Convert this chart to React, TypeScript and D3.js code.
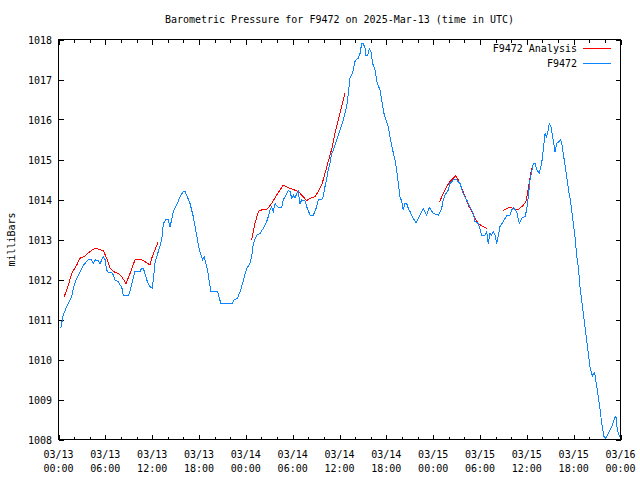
import React from "react";
import * as d3 from "d3";

const WIDTH = 640;
const HEIGHT = 480;
const TITLE = "Barometric Pressure for F9472 on 2025-Mar-13 (time in UTC)";
const Y_LABEL = "milliBars";
const START = "2025-03-13T00:00:00Z";
const END = "2025-03-16T00:00:00Z";
const yTicks = [1008, 1009, 1010, 1011, 1012, 1013, 1014, 1015, 1016, 1017, 1018];
const xTickDates = ["03/13", "03/13", "03/13", "03/13", "03/14", "03/14", "03/14", "03/14", "03/15", "03/15", "03/15", "03/15", "03/16"];
const xTickTimes = ["00:00", "06:00", "12:00", "18:00", "00:00", "06:00", "12:00", "18:00", "00:00", "06:00", "12:00", "18:00", "00:00"];

// Observed series (hours since 03/13 00:00 UTC, mbar)
const obsHours = [
  0.28, 0.61, 1.05, 1.69, 1.9, 2.33, 2.54, 2.97, 3.18, 3.82, 4.25, 4.46, 4.68, 5.1, 5.32, 5.74, 5.96, 6.17, 6.38, 6.82,
  7.02, 7.24, 7.66, 7.88, 8.1, 8.3, 8.94, 9.16, 9.58, 9.8, 10.44, 10.66, 10.86, 11.08, 11.3, 11.72, 12.02, 12.14, 12.36, 12.58,
  12.79, 13.22, 13.43, 13.77, 14.07, 14.28, 14.5, 14.71, 15.14, 15.57, 15.99, 16.21, 16.42, 16.85, 17.27, 17.7, 18.04, 18.45, 18.66, 19.09,
  19.52, 20.37, 20.8, 22.29, 22.5, 22.93, 23.35, 24.11, 24.53, 24.75, 24.96, 25.39, 25.81, 26.24, 26.67, 26.88, 27.1, 27.31, 27.52, 27.74,
  28.16, 28.59, 28.8, 29.24, 29.44, 29.66, 29.88, 30.08, 30.3, 30.52, 30.72, 30.94, 31.16, 31.58, 31.8, 32.22, 32.65, 33.08, 33.28, 33.72,
  33.92, 34.14, 34.36, 34.56, 34.78, 35.0, 35.21, 35.64, 36.06, 36.49, 36.92, 37.13, 37.34, 37.56, 37.77, 37.98, 38.2, 38.41, 38.63, 38.84,
  39.05, 39.27, 39.39, 39.61, 39.82, 40.03, 40.25, 40.55, 40.84, 41.19, 41.41, 41.7, 41.96, 42.25, 42.47, 42.76, 43.11, 43.33, 43.53, 43.75,
  43.97, 44.17, 44.39, 44.61, 44.81, 45.03, 45.45, 45.8, 46.31, 46.74, 47.17, 47.5, 48.02, 48.66, 49.09, 49.3, 49.51, 49.94, 50.16, 50.58,
  51.01, 51.44, 51.86, 52.29, 52.72, 53.14, 53.36, 53.78, 54.22, 54.64, 54.86, 55.06, 55.28, 55.5, 55.7, 55.92, 56.14, 56.56, 56.98, 57.42,
  57.84, 58.06, 58.27, 58.7, 59.03, 59.34, 59.76, 59.98, 60.19, 60.4, 60.62, 60.83, 61.05, 61.26, 61.6, 61.9, 62.11, 62.33, 62.54, 62.75,
  62.88, 63.1, 63.31, 63.61, 63.82, 64.16, 64.34, 64.47, 64.67, 64.89, 65.11, 65.31, 65.53, 65.75, 65.95, 66.17, 66.39, 66.59, 66.81, 67.03,
  67.23, 67.45, 67.67, 67.87, 68.09, 68.31, 68.44, 68.51, 68.69, 68.86, 69.15, 69.37, 69.59, 69.88, 70.14, 70.44, 70.87, 71.29, 71.42, 71.59,
  71.81, 71.93,
];
const obsValues = [
  1010.78, 1011.11, 1011.32, 1011.57, 1011.78, 1012.03, 1012.11, 1012.28, 1012.36, 1012.49, 1012.49, 1012.4, 1012.49, 1012.47, 1012.4, 1012.57, 1012.5, 1012.24, 1012.18, 1012.18,
  1012.11, 1011.99, 1011.95, 1011.86, 1011.82, 1011.59, 1011.59, 1011.7, 1012.03, 1012.2, 1012.2, 1012.28, 1012.28, 1012.15, 1011.99, 1011.82, 1011.78, 1011.99, 1012.4, 1012.57,
  1012.7, 1012.99, 1013.4, 1013.5, 1013.49, 1013.32, 1013.49, 1013.7, 1013.86, 1014.07, 1014.2, 1014.2, 1014.11, 1013.9, 1013.57, 1013.1, 1012.75, 1012.49, 1012.57, 1012.24,
  1011.7, 1011.7, 1011.4, 1011.4, 1011.49, 1011.53, 1011.74, 1012.28, 1012.4, 1012.57, 1012.9, 1013.11, 1013.15, 1013.28, 1013.45, 1013.57, 1013.74, 1013.82, 1013.7, 1013.9,
  1013.8, 1013.8, 1013.99, 1014.15, 1014.22, 1014.2, 1014.03, 1014.11, 1014.03, 1014.15, 1014.2, 1013.9, 1013.99, 1013.97, 1013.82, 1013.61, 1013.61, 1013.82, 1013.99, 1014.0,
  1014.07, 1014.32, 1014.53, 1014.74, 1014.9, 1015.15, 1015.24, 1015.49, 1015.74, 1015.99, 1016.32, 1016.65, 1017.03, 1017.11, 1017.24, 1017.45, 1017.5, 1017.53, 1017.65, 1017.9,
  1017.9, 1017.78, 1017.61, 1017.61, 1017.78, 1017.7, 1017.4, 1017.24, 1016.9, 1016.74, 1016.49, 1016.15, 1015.99, 1015.82, 1015.57, 1015.28, 1014.99, 1014.74, 1014.4, 1014.07,
  1013.95, 1013.74, 1013.9, 1013.9, 1013.78, 1013.7, 1013.53, 1013.42, 1013.61, 1013.78, 1013.61, 1013.8, 1013.65, 1013.61, 1013.78, 1013.99, 1014.11, 1014.24, 1014.4, 1014.49,
  1014.49, 1014.4, 1014.15, 1013.99, 1013.82, 1013.65, 1013.45, 1013.4, 1013.11, 1013.11, 1013.2, 1012.9, 1013.15, 1013.11, 1013.2, 1013.11, 1012.9, 1013.32, 1013.45, 1013.59,
  1013.61, 1013.74, 1013.8, 1013.7, 1013.4, 1013.53, 1013.57, 1013.74, 1014.07, 1014.49, 1014.7, 1014.9, 1014.9, 1014.74, 1014.66, 1014.9, 1015.24, 1015.65, 1015.57, 1015.74,
  1015.9, 1015.82, 1015.57, 1015.2, 1015.4, 1015.45, 1015.5, 1015.4, 1015.15, 1014.86, 1014.57, 1014.28, 1014.03, 1013.74, 1013.4, 1013.07, 1012.6, 1012.32, 1011.82, 1011.49,
  1011.15, 1010.82, 1010.49, 1010.15, 1009.82, 1009.65, 1009.57, 1009.65, 1009.67, 1009.45, 1009.07, 1008.78, 1008.4, 1008.07, 1008.03, 1008.15, 1008.32, 1008.55, 1008.57, 1008.24,
  1008.11, 1008.07,
];

// Analysis series, four separate runs
const anaHours1 = [0.7, 1.26, 1.69, 2.33, 2.75, 3.39, 4.04, 4.68, 5.32, 5.74, 6.17, 6.6, 7.02, 7.66, 8.1, 8.65, 9.16, 9.8, 10.66, 11.3, 11.72, 11.94, 12.36, 12.79];
const anaValues1 = [1011.55, 1011.86, 1012.15, 1012.36, 1012.53, 1012.59, 1012.7, 1012.78, 1012.75, 1012.72, 1012.53, 1012.28, 1012.2, 1012.15, 1012.07, 1011.9, 1012.15, 1012.49, 1012.49, 1012.42, 1012.36, 1012.53, 1012.74, 1012.95];
const anaHours2 = [24.75, 25.17, 25.6, 26.03, 26.67, 27.31, 27.95, 28.8, 29.66, 30.72, 31.36, 31.8, 32.22, 32.86, 33.28, 33.72, 34.14, 34.56, 35.0, 35.42, 35.85, 36.28, 36.7];
const anaValues2 = [1012.99, 1013.4, 1013.7, 1013.74, 1013.75, 1013.9, 1014.11, 1014.36, 1014.28, 1014.2, 1014.07, 1013.97, 1014.03, 1014.07, 1014.2, 1014.36, 1014.65, 1014.95, 1015.26, 1015.65, 1015.99, 1016.32, 1016.65];
const anaHours3 = [48.78, 49.3, 49.73, 50.16, 50.58, 50.89, 51.22, 51.65, 52.08, 52.5, 52.94, 53.36, 53.78, 54.22, 54.86];
const anaValues3 = [1013.93, 1014.15, 1014.32, 1014.45, 1014.53, 1014.59, 1014.49, 1014.28, 1014.09, 1013.86, 1013.7, 1013.53, 1013.4, 1013.34, 1013.28];
const anaHours4 = [56.91, 57.42, 57.93, 58.48, 58.78, 59.12, 59.55, 59.89, 60.06, 60.23, 60.49, 60.7];
const anaValues4 = [1013.71, 1013.78, 1013.8, 1013.75, 1013.74, 1013.78, 1013.86, 1013.95, 1014.11, 1014.32, 1014.65, 1014.82];

const SERIES_NAMES = ["F9472 Analysis", "F9472"];
const RED = "#ff0000";
const BLUE = "#0a84ff";
const FONT = "'DejaVu Sans Mono', 'Liberation Mono', monospace";

type Pt = { t: Date; v: number };
const t0 = new Date(START).getTime();
const toPts = (hours: number[], vals: number[]): Pt[] =>
  hours.map((h, i) => ({ t: new Date(t0 + h * 3600 * 1000), v: vals[i] }));

export default function App() {
  const margin = { left: 58.5, right: 620.5, top: 39.5, bottom: 439.5 };
  const x = d3.scaleUtc().domain([new Date(START), new Date(END)]).range([margin.left, margin.right]);
  const y = d3.scaleLinear().domain([1008, 1018]).range([margin.bottom, margin.top]);
  const line = d3
    .line<Pt>()
    .x((d) => x(d.t))
    .y((d) => y(d.v));

  const obs = toPts(obsHours, obsValues);
  const ana = [
    toPts(anaHours1, anaValues1),
    toPts(anaHours2, anaValues2),
    toPts(anaHours3, anaValues3),
    toPts(anaHours4, anaValues4),
  ];

  const majorX = x.ticks(d3.utcHour.every(6)!);
  const minorX = x.ticks(d3.utcHour.every(2)!).filter((d) => d.getUTCHours() % 6 !== 0);

  const px = (v: number) => Math.round(v) + 0.5;

  return (
    <svg
      width={WIDTH}
      height={HEIGHT}
      style={{ position: "absolute", left: 0, top: 0, background: "#fff" }}
      fontFamily={FONT}
      fontSize={10}
    >
      <rect x={0} y={0} width={WIDTH} height={HEIGHT} fill="#fff" />
      <text x={(margin.left + margin.right) / 2} y={23} textAnchor="middle">
        {TITLE}
      </text>
      <text transform={`translate(15,${(margin.top + margin.bottom) / 2}) rotate(-90)`} textAnchor="middle">
        {Y_LABEL}
      </text>

      {/* y ticks */}
      {yTicks.map((v) => (
        <g key={"y" + v}>
          <line x1={margin.left} x2={margin.left + 5} y1={px(y(v))} y2={px(y(v))} stroke="#000" shapeRendering="crispEdges" />
          <line x1={margin.right - 5} x2={margin.right} y1={px(y(v))} y2={px(y(v))} stroke="#000" shapeRendering="crispEdges" />
          <text x={52} y={y(v) + 4} textAnchor="end">
            {v}
          </text>
        </g>
      ))}

      {/* x ticks */}
      {majorX.map((d, i) => (
        <g key={"x" + i}>
          <line x1={px(x(d))} x2={px(x(d))} y1={margin.bottom} y2={margin.bottom - 5} stroke="#000" shapeRendering="crispEdges" />
          <line x1={px(x(d))} x2={px(x(d))} y1={margin.top} y2={margin.top + 5} stroke="#000" shapeRendering="crispEdges" />
          <text x={x(d)} y={458} textAnchor="middle">
            {xTickDates[i]}
          </text>
          <text x={x(d)} y={472} textAnchor="middle">
            {xTickTimes[i]}
          </text>
        </g>
      ))}
      {minorX.map((d, i) => (
        <g key={"m" + i}>
          <line x1={px(x(d))} x2={px(x(d))} y1={margin.bottom} y2={margin.bottom - 3} stroke="#000" shapeRendering="crispEdges" />
          <line x1={px(x(d))} x2={px(x(d))} y1={margin.top} y2={margin.top + 3} stroke="#000" shapeRendering="crispEdges" />
        </g>
      ))}

      {/* data */}
      {ana.map((seg, i) => (
        <path key={"a" + i} d={line(seg) || ""} fill="none" stroke={RED} strokeWidth={1} shapeRendering="crispEdges" />
      ))}
      <path d={line(obs) || ""} fill="none" stroke={BLUE} strokeWidth={1} shapeRendering="crispEdges" />

      {/* frame */}
      <rect
        x={margin.left}
        y={margin.top}
        width={margin.right - margin.left}
        height={margin.bottom - margin.top}
        fill="none"
        stroke="#000"
        shapeRendering="crispEdges"
      />

      {/* legend */}
      <text x={577} y={52} textAnchor="end">
        {SERIES_NAMES[0]}
      </text>
      <line x1={583} x2={611} y1={48.5} y2={48.5} stroke={RED} shapeRendering="crispEdges" />
      <text x={577} y={67} textAnchor="end">
        {SERIES_NAMES[1]}
      </text>
      <line x1={583} x2={611} y1={63.5} y2={63.5} stroke={BLUE} shapeRendering="crispEdges" />
    </svg>
  );
}
